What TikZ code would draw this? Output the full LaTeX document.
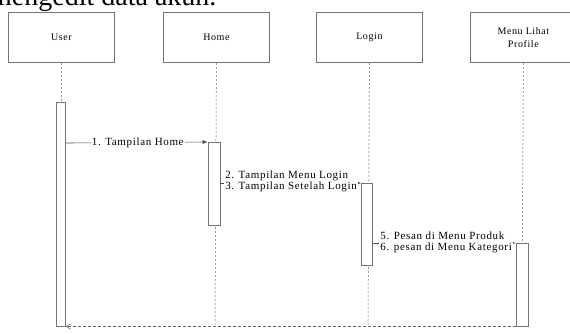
\documentclass[tikz,border=0pt]{standalone}
\usepackage{fontspec}
\setmainfont{Liberation Serif}
\usetikzlibrary{arrows.meta}
\begin{document}
\begin{tikzpicture}[x=1pt,y=-1pt,
  obj/.style={draw=black!55,line width=0.8pt,minimum width=106pt,minimum height=50pt,anchor=north west,align=center,font=\fontsize{10}{12}\selectfont\addfontfeatures{LetterSpace=6},inner sep=0pt},
  life/.style={draw=black!60,dashed,dash pattern=on 2pt off 2pt,line width=0.5pt},
  actbar/.style={draw=black!55,fill=white,line width=0.6pt,minimum width=9pt,anchor=north,inner sep=0pt},
  msg/.style={draw=black!70,line width=0.6pt,-{Latex[length=5pt,width=4pt]}},
  ret/.style={draw=black!60,dashed,dash pattern=on 3pt off 2pt,line width=0.6pt,-{Straight Barb[length=4pt,width=5pt]}},
  lbl/.style={font=\fontsize{11}{11.2}\selectfont\addfontfeatures{LetterSpace=6},fill=white,inner sep=1pt,align=left}]
\useasboundingbox (0,0) rectangle (570,333);
\begin{scope}
\clip (0,0) rectangle (570,333);
\node[anchor=base west,font=\fontsize{28}{30}\selectfont,inner sep=0pt] (title) at (-10,5) {mengedit data akun.};
% objects
\node[obj] (user) at (8,12) {User};
\node[obj] (home) at (163,12) {Home};
\node[obj] (login) at (316,12) {Login};
\node[obj] (menu) at (470,12) {Menu Lihat\\[1pt]Profile};
% lifelines
\coordinate (ue) at (61,326);
\coordinate (he) at (215,326);
\coordinate (le) at (368,326);
\coordinate (me) at (522,326);
\draw[life] (user.south) -- (ue);
\draw[life] (home.south) -- (he);
\draw[life] (login.south) -- (le);
\draw[life] (menu.south) -- (me);
% activation bars
\node[actbar,minimum height=224pt] (ua) at (61,102) {};
\node[actbar,minimum height=83pt,minimum width=12pt] (ha) at (214,142) {};
\node[actbar,minimum height=82pt,minimum width=11pt] (la) at (367,183) {};
\node[actbar,minimum height=83pt,minimum width=12pt] (ma) at (522,243) {};
% messages
\draw[msg] (ua.east |- 0,143) -- node[lbl,pos=0.5,xshift=1pt] (m1) {1. Tampilan Home} (ha.north west);
\draw[msg] (ha.east |- 0,183) -- (la.north west);
\node[lbl,anchor=east] (m2) at (358,181.5) {2. Tampilan Menu Login\\3. Tampilan Setelah Login};
\draw[msg] (la.east |- 0,243) -- (ma.north west);
\node[lbl,anchor=east] (m3) at (513,242) {5. Pesan di Menu Produk\\6. pesan di Menu Kategori};
\draw[ret] (ma.south west) -- (ua.south east);
\end{scope}
\end{tikzpicture}
\end{document}
